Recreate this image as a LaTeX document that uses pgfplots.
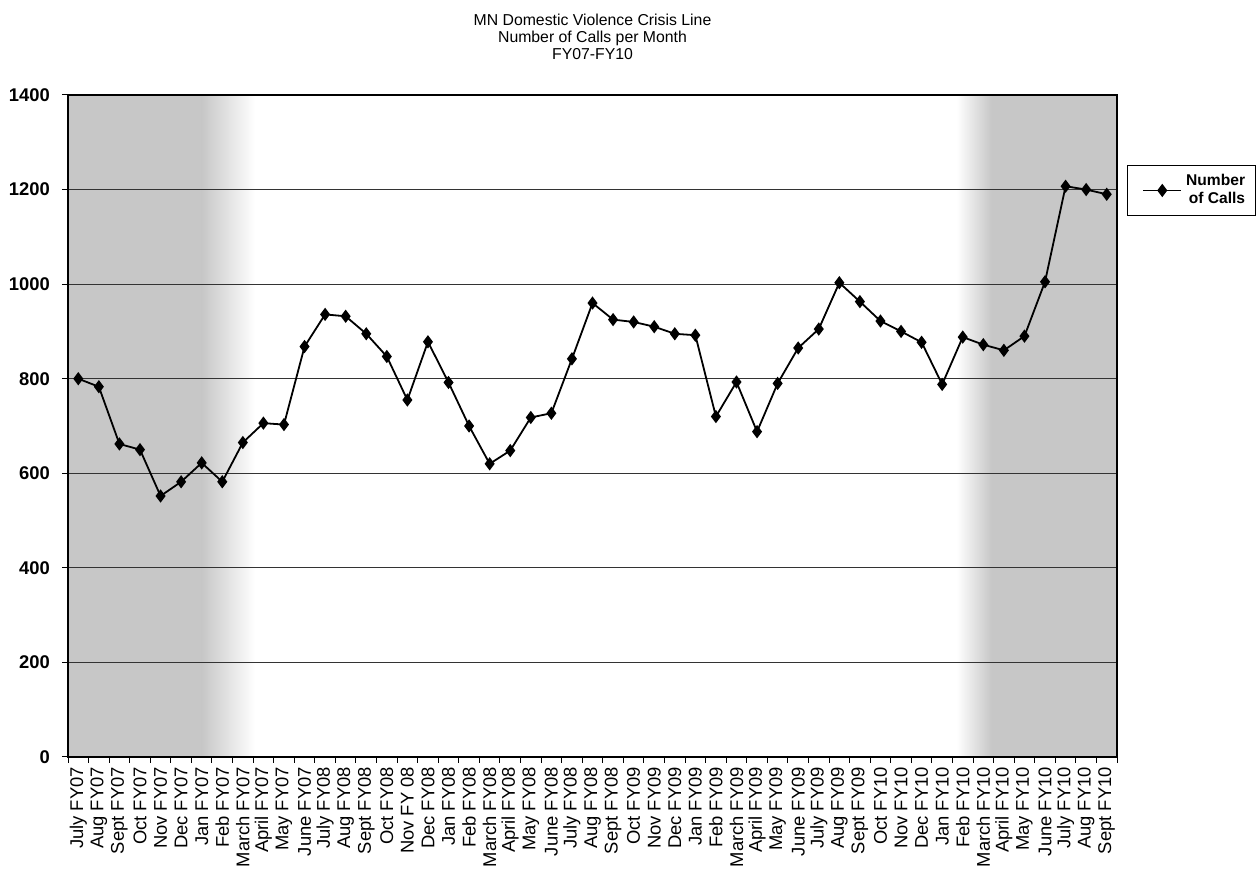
\documentclass[border=0pt]{standalone}
\usepackage{pgfplots}
\pgfplotsset{compat=1.18}
\usepackage{fontspec}
\setmainfont{Liberation Sans}
\definecolor{shadegray}{gray}{0.78}
\begin{document}
\begin{tikzpicture}
\begin{axis}[
  set layers,
  scale only axis,
  width=524.5pt, height=331pt,
  at={(0,0)}, anchor=south west,
  xmin=-0.5, xmax=50.5,
  ymin=0, ymax=1400,
  ytick={0,200,...,1400},
  ymajorgrids,
  major grid style={black!80, line width=0.5pt},
  axis line style={black, line width=0.6pt},
  tick style={black, line width=0.5pt},
  tick align=outside,
  tick pos=left,
  major tick length=3pt,
  /pgf/number format/assume math mode=true,
  /pgf/number format/1000 sep={},
  yticklabel style={font=\fontsize{9.2}{10}\selectfont\bfseries, xshift=-2.5pt},
  xtick={-0.5,0.5,...,50.5},
  xticklabels={},
  extra x ticks={0,1,...,50},
  extra x tick style={major tick length=0pt},
  extra x tick labels={July FY07,Aug FY07,Sept FY07,Oct FY07,Nov FY07,Dec FY07,Jan FY07,Feb FY07,March FY07,April FY07,May FY07,June FY07,July FY08,Aug FY08,Sept FY08,Oct FY08,Nov FY 08,Dec FY08,Jan FY08,Feb FY08,March FY08,April FY08,May FY08,June FY08,July FY08,Aug FY08,Sept FY08,Oct FY09,Nov FY09,Dec FY09,Jan FY09,Feb FY09,March FY09,April FY09,May FY09,June FY09,July FY09,Aug FY09,Sept FY09,Oct FY10,Nov FY10,Dec FY10,Jan FY10,Feb FY10,March FY10,April FY10,May FY10,June FY10,July FY10,Aug FY10,Sept FY10},
  xticklabel style={rotate=90, anchor=east, font=\fontsize{9.2}{10}\selectfont, xshift=-1.5pt},
  title={MN Domestic Violence Crisis Line\\Number of Calls per Month\\FY07-FY10},
  title style={align=center, font=\fontsize{7.9}{8.6}\selectfont, yshift=8pt},
  legend style={at={(1.0095,0.894)}, anchor=north west, draw=black, line width=0.4pt,
    font=\fontsize{7.8}{8.6}\selectfont\bfseries, inner xsep=3pt, inner ysep=2.5pt, row sep=0pt},
  legend cell align=right,
  legend image code/.code={
    \path (0pt,0pt);
    \draw[mark repeat=2,mark phase=2,#1] plot coordinates {(4.5pt,0pt)(14pt,0pt)(23.5pt,0pt)};
  },
]
\begin{pgfonlayer}{axis background}
\fill[shadegray] (axis cs:-0.5,0) rectangle (axis cs:6,1400);
\shade[left color=shadegray, right color=white] (axis cs:6,0) rectangle (axis cs:8.6,1400);
\shade[left color=white, right color=shadegray] (axis cs:42.7,0) rectangle (axis cs:44.4,1400);
\fill[shadegray] (axis cs:44.4,0) rectangle (axis cs:50.5,1400);
\end{pgfonlayer}
\addplot[black, line width=0.9pt, mark=diamond*, mark size=2.6pt, mark options={solid, fill=black}]
table {
x y
0 800
1 783
2 662
3 650
4 552
5 582
6 622
7 582
8 665
9 706
10 703
11 868
12 936
13 932
14 895
15 847
16 755
17 878
18 792
19 700
20 620
21 648
22 718
23 727
24 842
25 960
26 925
27 920
28 910
29 895
30 892
31 720
32 793
33 688
34 790
35 865
36 905
37 1003
38 963
39 922
40 900
41 877
42 788
43 888
44 872
45 860
46 890
47 1005
48 1207
49 1200
50 1190
};
\addlegendentry{\shortstack[r]{Number\\of Calls}}
\end{axis}
\pgfresetboundingbox
\useasboundingbox (-34pt,-59.5pt) rectangle (594pt,378.5pt);
\end{tikzpicture}
\end{document}
